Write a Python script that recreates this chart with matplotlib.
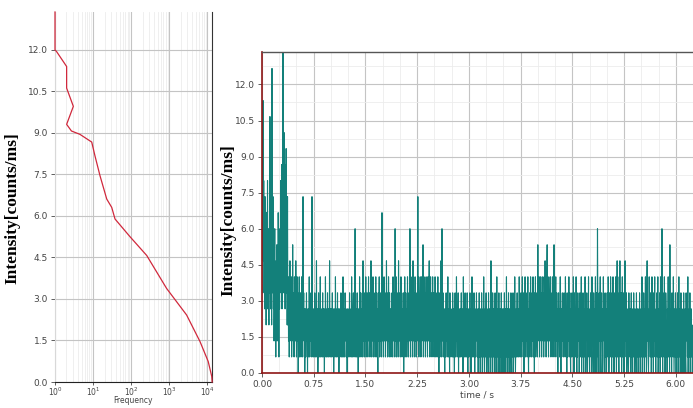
import numpy as np
import matplotlib
matplotlib.use("Agg")
import matplotlib.pyplot as plt
from matplotlib.ticker import LogLocator, FixedLocator, FormatStrFormatter, MultipleLocator

# ---------------- data ----------------
# Left panel: intensity distribution (intensity [counts/ms] vs frequency)
hist_intensity = [13.37, 12.0, 11.94, 11.4, 10.62, 9.96, 9.31, 9.07, 8.95, 8.67, 8.17,
                  7.45, 6.61, 6.31, 5.89, 5.25, 4.57, 3.38, 2.42, 1.46, 0.74, 0.2, 0.0]
hist_frequency = [1.0, 1.0, 1.1, 2.02, 2.02, 3.03, 2.02, 2.7, 4.5, 9.2, 11.2,
                  15.2, 22.8, 30.8, 37.6, 93, 256, 850, 2850, 6400, 10500, 13000, 13300]

# Right panel: intensity trace, photon counts per time bin
LEVEL_STEP = 2.0 / 3.0      # counts/ms per photon count in a bin
TIME_STEP = 0.005           # s between plotted bins

trace_0 = [5, 11, 8, 17, 7, 12, 5, 9, 4, 11, 6, 8, 3, 10, 7, 5, 12, 4, 9, 6, 3, 8, 5, 16, 7,
           4, 10, 6, 3, 19, 8, 5, 11, 4, 7, 2, 6, 9, 3, 5, 1, 7, 4, 8, 2, 6, 3, 10, 5, 1,
           7, 4, 9, 6, 12, 5, 8, 13, 4, 10, 7, 20, 9, 5, 15, 8, 12, 4, 13, 7, 14, 5, 9, 3, 11,
           3, 6, 2, 5, 1, 4, 7, 3, 5, 2, 6, 1, 4, 3, 8, 2, 5, 4, 1, 6, 3, 5, 2, 7, 4,
           1, 3, 6, 2, 5, 0, 4, 3, 6, 1, 4, 2, 5, 1, 3, 6, 2, 4, 1, 11, 3, 5, 2, 4, 0]
trace_1 = [2, 4, 1, 3, 5, 2, 4, 0, 3, 1, 4, 2, 6, 1, 3, 4, 2, 5, 1, 3, 11, 2, 4, 1, 3,
           4, 1, 2, 5, 3, 1, 4, 2, 7, 1, 3, 4, 0, 2, 5, 3, 1, 4, 2, 6, 1, 3, 4, 2, 1,
           3, 5, 1, 4, 2, 3, 0, 4, 1, 6, 2, 3, 1, 4, 2, 5, 1, 3, 4, 1, 2, 7, 3, 1, 4,
           2, 4, 1, 3, 5, 2, 1, 4, 0, 3, 2, 4, 1, 6, 2, 3, 1, 4, 2, 5, 1, 3, 4, 0, 2,
           4, 1, 3, 2, 5, 1, 4, 3, 1, 2, 6, 3, 1, 4, 2, 1, 5, 3, 2, 4, 1, 3, 0, 4, 2]
trace_2 = [1, 3, 4, 2, 5, 1, 3, 2, 4, 1, 6, 2, 3, 1, 4, 5, 2, 1, 3, 4, 9, 2, 1, 4, 3,
           1, 5, 2, 3, 0, 4, 2, 1, 6, 3, 2, 5, 1, 4, 3, 2, 5, 1, 7, 3, 2, 4, 1, 5, 3,
           2, 6, 1, 4, 3, 5, 2, 1, 4, 6, 2, 3, 5, 1, 4, 2, 7, 3, 1, 5, 2, 4, 6, 1, 3,
           5, 2, 4, 1, 3, 6, 2, 5, 1, 4, 3, 0, 5, 2, 4, 6, 1, 3, 5, 2, 4, 1, 3, 10, 2,
           5, 3, 1, 4, 6, 2, 3, 5, 1, 4, 2, 7, 3, 5, 1, 4, 2, 6, 3, 1, 5, 2, 4, 3, 1]
trace_3 = [4, 2, 5, 3, 1, 6, 2, 4, 3, 5, 1, 9, 2, 4, 6, 1, 3, 5, 2, 4, 1, 7, 3, 5, 2,
           4, 1, 3, 6, 2, 5, 1, 4, 3, 2, 5, 0, 4, 2, 6, 1, 3, 5, 2, 4, 1, 3, 6, 2, 4,
           1, 5, 3, 2, 9, 4, 1, 6, 3, 5, 2, 4, 1, 7, 3, 2, 5, 4, 1, 6, 2, 3, 5, 1, 4,
           2, 5, 11, 3, 6, 1, 4, 2, 5, 6, 3, 1, 4, 6, 2, 5, 3, 8, 1, 4, 6, 2, 5, 3, 1,
           4, 6, 2, 5, 3, 1, 6, 4, 2, 5, 7, 3, 1, 4, 6, 2, 5, 3, 1, 4, 6, 2, 3, 5, 1]
trace_4 = [4, 2, 6, 3, 1, 5, 2, 4, 1, 3, 6, 2, 4, 0, 5, 3, 1, 4, 2, 7, 3, 1, 9, 4, 2,
           5, 1, 3, 4, 2, 0, 4, 1, 3, 5, 2, 4, 1, 3, 6, 2, 1, 4, 3, 0, 5, 2, 4, 1, 3,
           2, 4, 1, 5, 3, 1, 4, 2, 0, 3, 5, 1, 4, 2, 6, 3, 1, 4, 2, 5, 0, 3, 4, 1, 2,
           4, 1, 3, 5, 2, 1, 4, 3, 0, 6, 2, 4, 1, 3, 5, 2, 1, 4, 3, 1, 5, 2, 0, 4, 3,
           1, 4, 2, 5, 1, 3, 0, 4, 2, 6, 1, 3, 4, 2, 1, 5, 3, 0, 4, 2, 1, 3, 5, 2, 4]
trace_5 = [1, 3, 0, 4, 2, 5, 1, 3, 0, 4, 2, 1, 5, 3, 0, 2, 4, 1, 6, 3, 0, 2, 4, 1, 3,
           5, 0, 2, 4, 1, 3, 0, 5, 2, 1, 4, 3, 0, 2, 7, 1, 4, 3, 0, 5, 2, 1, 4, 2, 0,
           3, 5, 1, 4, 0, 2, 6, 1, 3, 4, 0, 2, 5, 1, 3, 0, 4, 2, 1, 5, 3, 0, 4, 2, 1,
           4, 3, 0, 5, 2, 1, 4, 0, 3, 6, 1, 2, 4, 0, 3, 5, 1, 2, 4, 0, 3, 1, 5, 2, 0,
           4, 1, 3, 5, 0, 2, 4, 1, 6, 3, 0, 2, 4, 1, 3, 5, 2, 1, 4, 3, 1, 6, 2, 4, 1]
trace_6 = [3, 5, 2, 1, 4, 6, 2, 3, 1, 5, 0, 4, 2, 6, 1, 3, 5, 2, 4, 1, 3, 6, 2, 0, 4,
           2, 5, 1, 3, 6, 2, 4, 1, 5, 3, 2, 6, 1, 4, 3, 0, 5, 2, 6, 1, 4, 3, 5, 2, 1,
           8, 3, 5, 2, 6, 1, 4, 3, 6, 2, 5, 1, 4, 6, 3, 2, 5, 1, 6, 4, 2, 7, 3, 5, 1,
           4, 6, 8, 2, 5, 3, 1, 6, 4, 2, 5, 3, 6, 1, 4, 2, 5, 3, 6, 1, 4, 2, 8, 3, 5,
           1, 4, 6, 2, 3, 5, 1, 4, 0, 3, 5, 2, 4, 1, 3, 6, 2, 0, 4, 1, 3, 5, 2, 4, 1]
trace_7 = [3, 5, 2, 4, 1, 6, 3, 2, 4, 0, 5, 1, 3, 4, 2, 6, 1, 3, 5, 2, 0, 4, 1, 3, 5,
           2, 4, 1, 6, 3, 0, 5, 2, 4, 1, 3, 6, 2, 0, 4, 1, 5, 3, 2, 4, 0, 3, 5, 1, 4,
           2, 6, 0, 3, 4, 1, 5, 2, 0, 4, 3, 1, 6, 2, 0, 4, 3, 5, 1, 0, 4, 2, 6, 1, 3,
           0, 4, 2, 5, 1, 3, 0, 6, 2, 4, 1, 0, 5, 3, 2, 4, 0, 6, 1, 3, 5, 0, 2, 9, 4,
           1, 3, 0, 5, 2, 4, 6, 1, 0, 3, 5, 2, 4, 0, 1, 6, 3, 2, 4, 0, 5, 1, 3, 4, 0]
trace_8 = [2, 5, 3, 1, 6, 4, 0, 2, 5, 3, 1, 6, 2, 4, 0, 5, 3, 1, 6, 2, 4, 0, 3, 5, 1,
           4, 6, 2, 0, 3, 7, 1, 5, 4, 2, 0, 6, 3, 7, 1, 4, 2, 5, 0, 3, 6, 1, 4, 2, 5,
           0, 3, 6, 7, 2, 4, 1, 5, 0, 3, 2, 4, 1, 0, 5, 2, 3, 1, 4, 0, 2, 5, 1, 3, 0,
           4, 2, 1, 5, 3, 0, 2, 4, 1, 3, 0, 5, 2, 1, 4, 3, 0, 2, 4, 1, 5, 3, 0, 2, 4,
           1, 3, 6, 0, 2, 4, 1, 5, 3, 0, 4, 2, 6, 1, 3, 0, 5, 7, 2, 4, 1, 0, 3, 6, 2]
trace_9 = [4, 1, 5, 3, 0, 2, 6, 4, 1, 3, 0, 5, 2, 4, 6, 1, 3, 0, 4, 2, 5, 1, 3, 6, 0,
           2, 4, 1, 5, 3, 0, 6, 2, 4, 1, 9, 3, 0, 5, 2, 4, 1, 6, 3, 0, 2, 5, 4, 1, 3,
           0, 4, 2, 6, 1, 3, 5, 0, 8, 2, 4, 1, 3, 0, 5, 2, 4, 1, 6, 3, 0, 2, 4, 1, 5,
           3, 0, 2, 4, 1, 5, 3, 0, 2, 6, 1, 4, 3, 0, 2, 5, 1, 4, 0, 3, 2, 4, 1, 5, 0,
           3, 2, 4, 1, 0, 5, 3, 2, 4, 1, 6, 0, 3, 2, 4, 1, 5, 0, 3, 2, 4, 1, 3, 0, 2]

y_ticks = [0.0, 1.5, 3.0, 4.5, 6.0, 7.5, 9.0, 10.5, 12.0]
time_ticks = [0.00, 0.75, 1.50, 2.25, 3.00, 3.75, 4.50, 5.25, 6.00]

counts = np.concatenate([trace_0, trace_1, trace_2, trace_3, trace_4,
                         trace_5, trace_6, trace_7, trace_8, trace_9]).astype(float)
intensity = counts * LEVEL_STEP
time = np.arange(len(counts)) * TIME_STEP

# ---------------- styling ----------------
W, H = 693, 408
fig = plt.figure(figsize=(W / 100, H / 100), dpi=100)
fig.patch.set_facecolor("white")

MAJOR_GRID = "#c4c4c4"
MINOR_GRID = "#ececec"
TICK_COLOR = "#444444"
LABEL_FONT = dict(family=["Liberation Serif", "DejaVu Serif"], weight="bold", size=12.5)

# ----- left panel -----
ax1 = fig.add_axes([55 / W, (H - 382) / H, 157 / W, 370 / H])
ax1.set_xscale("log")
ax1.plot(hist_frequency, hist_intensity, color="#d0283c", lw=0.9, clip_on=False, zorder=5)
ax1.set_xlim(1, 13200)
ax1.set_ylim(0, 13.37)
ax1.xaxis.set_major_locator(LogLocator(base=10, numticks=10))
ax1.xaxis.set_minor_locator(LogLocator(base=10, subs=np.arange(2, 10), numticks=20))
ax1.yaxis.set_major_locator(FixedLocator(y_ticks))
ax1.yaxis.set_major_formatter(FormatStrFormatter("%.1f"))
ax1.grid(True, which="major", color=MAJOR_GRID, lw=0.8)
ax1.grid(True, which="minor", axis="x", color=MINOR_GRID, lw=0.6)
ax1.set_axisbelow(True)
ax1.spines["top"].set_visible(False)
ax1.spines["left"].set_color("#d8d8d8")
ax1.spines["right"].set_color("#333333")
ax1.spines["bottom"].set_color("#222222")
ax1.tick_params(axis="both", which="major", labelsize=6.5, colors=TICK_COLOR, length=3, width=0.6, pad=2)
ax1.tick_params(axis="x", which="major", labelsize=5.5, pad=0.5, length=2)
ax1.tick_params(axis="x", which="minor", length=0)
ax1.set_xlabel("Frequency", fontsize=5.5, color=TICK_COLOR, labelpad=0)
ax1.xaxis.set_label_coords(0.5, -0.039)
ax1.set_ylabel("Intensity[counts/ms]", **LABEL_FONT)
ax1.yaxis.set_label_coords(-0.22, 0.47)

# ----- right panel -----
ax2 = fig.add_axes([262 / W, (H - 373) / H, 431 / W, 321 / H])
ax2.plot(time, intensity, color="#13807a", lw=0.8)
ax2.set_xlim(0, 6.25)
ax2.set_ylim(0, 13.35)
ax2.xaxis.set_major_locator(FixedLocator(time_ticks))
ax2.xaxis.set_major_formatter(FormatStrFormatter("%.2f"))
ax2.xaxis.set_minor_locator(MultipleLocator(0.25))
ax2.yaxis.set_major_locator(FixedLocator(y_ticks))
ax2.yaxis.set_major_formatter(FormatStrFormatter("%.1f"))
ax2.yaxis.set_minor_locator(MultipleLocator(0.75))
ax2.grid(True, which="major", color=MAJOR_GRID, lw=0.8)
ax2.grid(True, which="minor", color=MINOR_GRID, lw=0.6)
ax2.set_axisbelow(True)
ax2.spines["right"].set_visible(False)
ax2.spines["top"].set_color("#555555")
ax2.spines["top"].set_linewidth(1.0)
for s in ["left", "bottom"]:
    ax2.spines[s].set_color("#8e1616")
    ax2.spines[s].set_linewidth(1.2)
ax2.tick_params(axis="both", which="major", labelsize=6.5, colors=TICK_COLOR, length=3, width=0.6, pad=2)
ax2.tick_params(axis="both", which="minor", length=0)
ax2.set_xlabel("time / s", fontsize=6.5, color=TICK_COLOR, labelpad=1)
ax2.set_ylabel("Intensity[counts/ms]", **LABEL_FONT)
ax2.yaxis.set_label_coords(-0.06, 0.477)

fig.savefig("out.png", dpi=100, facecolor="white")
